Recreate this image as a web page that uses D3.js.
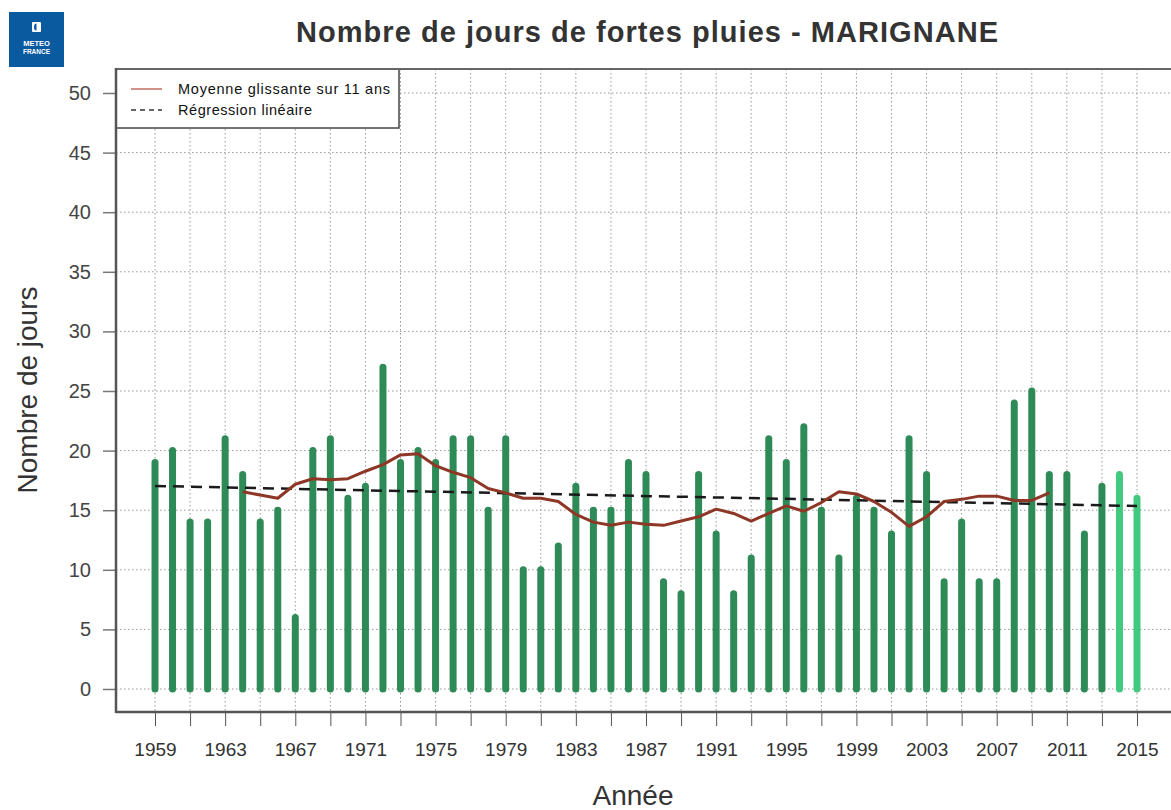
<!DOCTYPE html>
<html><head><meta charset="utf-8">
<script src="https://cdn.jsdelivr.net/npm/d3@7"></script>
<style>
html,body{margin:0;padding:0;background:#fff;}
svg{display:block;font-family:"Liberation Sans",Arial,Helvetica,sans-serif;}
</style></head>
<body><svg id="c" width="1171" height="810"></svg>
<script>
const years = d3.range(1959, 2016);
const values = [19,20,14,14,21,18,14,15,6,20,21,16,17,27,19,20,19,21,21,15,21,10,10,12,17,15,15,19,18,9,8,18,13,8,11,21,19,22,15,11,16,15,13,21,18,9,14,9,9,24,25,18,18,13,17,18,16];
const provisionalYears = [2014, 2015];
const maYears = d3.range(1964, 2011);
const maValues = [16.55,16.27,16.00,17.18,17.64,17.55,17.64,18.27,18.82,19.64,19.73,18.73,18.18,17.73,16.82,16.45,16.00,16.00,15.73,14.64,14.00,13.73,14.00,13.82,13.73,14.09,14.45,15.09,14.73,14.09,14.73,15.36,14.91,15.64,16.55,16.36,15.73,14.82,13.64,14.45,15.73,15.91,16.18,16.18,15.82,15.82,16.45];
const regYears = [1959, 2015];
const regValues = [17.03, 15.35];
const yTicks = d3.range(0, 51, 5);
const xTickYears = d3.range(1959, 2016, 2);
const xLabelYears = d3.range(1959, 2016, 4);
const title = "Nombre de jours de fortes pluies - MARIGNANE";
const xTitle = "Année";
const yTitle = "Nombre de jours";
const legendLabels = ["Moyenne glissante sur 11 ans", "Régression linéaire"];

const svg = d3.select("#c");
const x = d3.scaleLinear().domain([1959, 2015]).range([155, 1137]);
const y = d3.scaleLinear().domain([0, 50]).range([689, 93]);
const L = 116, T = 69, B = 712, R = 1180;

// logo
const logo = svg.append("g");
logo.append("rect").attr("x", 9).attr("y", 12).attr("width", 55).attr("height", 55).attr("fill", "#0a5aa0");
logo.append("rect").attr("x", 32).attr("y", 22).attr("width", 9).attr("height", 10).attr("fill", "#fff").attr("rx", 1);
logo.append("path").attr("d", "M36.5,23.5 a2.5,3.5 0 1,0 0,7 z").attr("fill", "#0a5aa0");
logo.append("text").attr("x", 36.5).attr("y", 46).attr("text-anchor", "middle").attr("font-size", 7.5).attr("font-weight", "bold").attr("fill", "#fff").text("METEO");
logo.append("text").attr("x", 36.5).attr("y", 54).attr("text-anchor", "middle").attr("font-size", 6.5).attr("font-weight", "bold").attr("fill", "#fff").text("FRANCE");

// title
svg.append("text").attr("x", 647).attr("y", 42).attr("text-anchor", "middle")
  .attr("font-size", 29).attr("font-weight", "bold").attr("fill", "#333")
  .attr("textLength", 702).attr("lengthAdjust", "spacing").text(title);

// grid
const grid = svg.append("g").attr("stroke", "#999").attr("stroke-width", 1).attr("stroke-dasharray", "1.5,2.5");
grid.selectAll("line.h").data(yTicks).join("line")
  .attr("x1", L).attr("x2", R).attr("y1", d => y(d)).attr("y2", d => y(d));
grid.selectAll("line.v").data(xTickYears).join("line")
  .attr("x1", d => x(d)).attr("x2", d => x(d)).attr("y1", T).attr("y2", B);

// bars
svg.append("g").selectAll("line").data(years).join("line")
  .attr("x1", d => x(d)).attr("x2", d => x(d))
  .attr("y1", y(0)).attr("y2", (d, i) => y(values[i]))
  .attr("stroke", d => provisionalYears.includes(d) ? "#41c97f" : "#2e8b57")
  .attr("stroke-width", 7).attr("stroke-linecap", "round");

// regression
svg.append("path").datum(regYears.map((d, i) => [d, regValues[i]]))
  .attr("d", d3.line().x(d => x(d[0])).y(d => y(d[1])))
  .attr("fill", "none").attr("stroke", "#1a1a1a").attr("stroke-width", 2.5).attr("stroke-dasharray", "11,7");

// moving average
svg.append("path").datum(maYears.map((d, i) => [d, maValues[i]]))
  .attr("d", d3.line().x(d => x(d[0])).y(d => y(d[1])))
  .attr("fill", "none").attr("stroke", "#8e3726").attr("stroke-width", 3).attr("stroke-linejoin", "round");

// frame
svg.append("line").attr("x1", L).attr("x2", R).attr("y1", B).attr("y2", B).attr("stroke", "#555").attr("stroke-width", 2.5);

// y axis
const yAxis = d3.axisLeft(y).tickValues(yTicks).tickSize(13).tickPadding(12);
const gy = svg.append("g").attr("transform", `translate(${L},0)`).call(yAxis);
gy.select(".domain").remove();
gy.selectAll(".tick line").attr("stroke", "#777").attr("stroke-width", 1.5);
gy.selectAll(".tick text").attr("font-size", 20).attr("fill", "#444").attr("font-family", "Liberation Sans, Arial, sans-serif");

// x axis
const xAxis = d3.axisBottom(x).tickValues(xTickYears).tickSize(14).tickPadding(17)
  .tickFormat(d => xLabelYears.includes(d) ? String(d) : "");
const gx = svg.append("g").attr("transform", `translate(0,${B})`).call(xAxis);
gx.select(".domain").remove();
gx.selectAll(".tick line").attr("stroke", "#555").attr("stroke-width", 1);
gx.selectAll(".tick text").attr("font-size", 19).attr("fill", "#333").attr("font-family", "Liberation Sans, Arial, sans-serif");

// axis titles
svg.append("text").attr("x", 633).attr("y", 805).attr("text-anchor", "middle")
  .attr("font-size", 28).attr("fill", "#333").text(xTitle);
svg.append("text").attr("transform", "translate(37,390) rotate(-90)").attr("text-anchor", "middle")
  .attr("font-size", 28).attr("fill", "#333").text(yTitle);

// legend
const lg = svg.append("g");
lg.append("rect").attr("x", L).attr("y", T).attr("width", 283).attr("height", 59)
  .attr("fill", "#fff").attr("stroke", "#444").attr("stroke-width", 1.5);
lg.append("line").attr("x1", 131).attr("x2", 162).attr("y1", 89).attr("y2", 89).attr("stroke", "#b5574a").attr("stroke-width", 1.3);
lg.append("line").attr("x1", 131).attr("x2", 162).attr("y1", 110).attr("y2", 110).attr("stroke", "#333").attr("stroke-width", 1.3).attr("stroke-dasharray", "5,4");
const legendWidths = [212, 134];
lg.selectAll("text").data(legendLabels).join("text")
  .attr("x", 178).attr("y", (d, i) => 94 + i * 21).attr("font-size", 14.5).attr("fill", "#111")
  .attr("textLength", (d, i) => legendWidths[i]).attr("lengthAdjust", "spacing").text(d => d);

// frame top and left over legend
svg.append("line").attr("x1", L).attr("x2", R).attr("y1", T).attr("y2", T).attr("stroke", "#666").attr("stroke-width", 2);
svg.append("line").attr("x1", L).attr("x2", L).attr("y1", T - 1).attr("y2", B + 1).attr("stroke", "#555").attr("stroke-width", 2.5);
</script></body></html>
